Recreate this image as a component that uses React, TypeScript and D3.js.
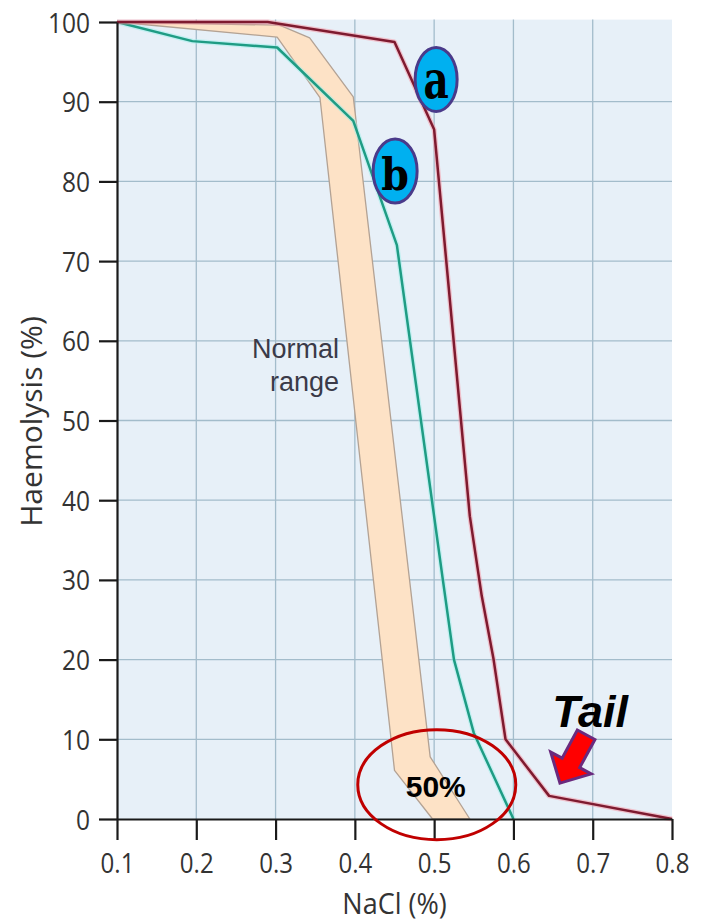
import React, { useEffect, useRef } from 'react';
import * as d3 from 'd3';

// Curve a (red)
const naclA = [0.1, 0.29, 0.45, 0.5, 0.545, 0.56, 0.575, 0.59, 0.645, 0.8];
const haemA = [100, 100, 97.5, 86.5, 38, 28, 20, 10, 2.9, 0];
// Curve b (green)
const naclB = [0.1, 0.195, 0.302, 0.398, 0.453, 0.511, 0.525, 0.55, 0.6];
const haemB = [100, 97.6, 96.8, 87.6, 72, 30, 20, 10.8, 0];
// Normal range band
const bandUpperX = [0.1, 0.305, 0.343, 0.398, 0.495, 0.545];
const bandUpperY = [100, 99.6, 98, 90.6, 7.8, 0];
const bandLowerX = [0.1, 0.302, 0.356, 0.45, 0.498];
const bandLowerY = [100, 98.1, 90.5, 6.1, 0];

const xTicks = [0.1, 0.2, 0.3, 0.4, 0.5, 0.6, 0.7, 0.8];
const yTicks = [0, 10, 20, 30, 40, 50, 60, 70, 80, 90, 100];
const xGrid = [0.2, 0.3, 0.4, 0.5, 0.6, 0.7];
const yGrid = [10, 20, 30, 40, 50, 60, 70, 80, 90];

const W = 707;
const H = 923;

export default function App() {
  const xRef = useRef<SVGGElement>(null);
  const yRef = useRef<SVGGElement>(null);

  const x = d3.scaleLinear().domain([0.1, 0.8]).range([117, 672]);
  const y = d3.scaleLinear().domain([0, 100]).range([819, 22]);

  useEffect(() => {
    const gx = d3.select(xRef.current!);
    gx.selectAll('*').remove();
    gx.call(
      d3.axisBottom(x).tickValues(xTicks).tickSize(21).tickSizeOuter(0).tickFormat(d3.format('.1f'))
    );
    gx.select('.domain').attr('stroke', '#1a1a1a').attr('stroke-width', 2.2);
    gx.selectAll('.tick line').attr('stroke', '#1a1a1a').attr('stroke-width', 2.2);
    gx.selectAll('.tick text')
      .attr('y', null)
      .attr('dy', null)
      .attr('transform', 'translate(0,54) scale(0.86,1)')
      .attr('fill', '#333')
      .style('font-family', '"Open Sans", sans-serif')
      .style('font-size', '28px');

    const gy = d3.select(yRef.current!);
    gy.selectAll('*').remove();
    gy.call(d3.axisLeft(y).tickValues(yTicks).tickSize(18).tickSizeOuter(0));
    gy.select('.domain').attr('stroke', '#1a1a1a').attr('stroke-width', 2.2);
    gy.selectAll('.tick line').attr('stroke', '#1a1a1a').attr('stroke-width', 2.2);
    gy.selectAll('.tick text')
      .attr('x', null)
      .attr('dy', '0.36em')
      .attr('transform', 'translate(-27,0) scale(0.875,1)')
      .attr('fill', '#333')
      .style('font-family', '"Open Sans", sans-serif')
      .style('font-size', '28px');
  }, []);

  const lineA = d3.line<number>().x((d, i) => x(naclA[i])).y((d) => y(d))(haemA) || '';
  const lineB = d3.line<number>().x((d, i) => x(naclB[i])).y((d) => y(d))(haemB) || '';
  const bandPts: [number, number][] = [
    ...bandUpperX.map((v, i) => [x(v), y(bandUpperY[i])] as [number, number]),
    ...bandLowerX.map((v, i) => [x(v), y(bandLowerY[i])] as [number, number]).reverse(),
  ];
  const bandPath = d3.line()(bandPts) + 'Z';

  // annotation anchors in data units
  const aC = [0.5025, 92.8];
  const bC = [0.4508, 81.3];
  const circC = [0.5033, 4.3];
  const arrowTip = [0.6587, 4.5];
  const tailPos = [0.649, 11.5];

  return (
    <svg width={W} height={H} style={{ position: 'absolute', left: 0, top: 0, background: '#fff' }}>
      <rect
        x={x(0.1)}
        y={y(100.3)}
        width={x(0.8) - x(0.1)}
        height={y(0) - y(100.3)}
        fill="#e7f0f8"
      />
      {xGrid.map((v) => (
        <line key={'gx' + v} x1={x(v)} x2={x(v)} y1={y(100.3)} y2={y(0)} stroke="#a3bccb" strokeWidth={1.3} />
      ))}
      {yGrid.map((v) => (
        <line key={'gy' + v} x1={x(0.1)} x2={x(0.8)} y1={y(v)} y2={y(v)} stroke="#a3bccb" strokeWidth={1.3} />
      ))}
      <path d={bandPath} fill="#fde2c6" stroke="#b3a294" strokeWidth={1.3} strokeLinejoin="round" />
      <path d={lineB} fill="none" stroke="#9ef0ec" strokeWidth={5} strokeOpacity={0.5} strokeLinejoin="round" />
      <path d={lineB} fill="none" stroke="#1f9c84" strokeWidth={2.5} strokeLinejoin="round" />
      <path d={lineA} fill="none" stroke="#f59aa8" strokeWidth={5} strokeOpacity={0.55} strokeLinejoin="round" />
      <path d={lineA} fill="none" stroke="#7e1a2f" strokeWidth={2.5} strokeLinejoin="round" />
      <g ref={xRef} transform={`translate(0,${y(0)})`} />
      <g ref={yRef} transform={`translate(${x(0.1)},0)`} />

      <text
        transform={`translate(394.5,914) scale(0.9,1)`}
        textAnchor="middle"
        fontFamily='"Open Sans", sans-serif'
        fontSize={30}
        fill="#333"
      >
        NaCl (%)
      </text>
      <text
        transform={`translate(42,421.5) rotate(-90)`}
        textAnchor="middle"
        fontFamily='"Open Sans", sans-serif'
        fontSize={30}
        fill="#333"
      >
        Haemolysis (%)
      </text>

      <g fontFamily='"Liberation Sans", Arial, sans-serif' fontSize={27} fill="#3a3a48" textAnchor="end">
        <text x={339} y={358}>Normal</text>
        <text x={339} y={391}>range</text>
      </g>

      <ellipse cx={x(aC[0])} cy={y(aC[1])} rx={21} ry={32} fill="#00b0f0" stroke="#4a3a8a" strokeWidth={3} />
      <text
        transform={`translate(${x(aC[0])},${y(aC[1]) + 19}) scale(0.85,1.12)`}
        textAnchor="middle"
        fontFamily='"DejaVu Serif", serif'
        fontWeight="bold"
        fontSize={46}
        fill="#000"
      >
        a
      </text>
      <ellipse cx={x(bC[0])} cy={y(bC[1])} rx={22} ry={32} fill="#00b0f0" stroke="#4a3a8a" strokeWidth={3} />
      <text
        transform={`translate(${x(bC[0])},${y(bC[1]) + 19}) scale(0.9,1)`}
        textAnchor="middle"
        fontFamily='"DejaVu Serif", serif'
        fontWeight="bold"
        fontSize={44}
        fill="#000"
      >
        b
      </text>

      <ellipse cx={x(circC[0])} cy={y(circC[1])} rx={79} ry={55} fill="none" stroke="#c00000" strokeWidth={3} />
      <text
        x={x(circC[0]) - 1}
        y={797}
        textAnchor="middle"
        fontFamily='"Liberation Sans", Arial, sans-serif'
        fontWeight="bold"
        fontSize={30}
        fill="#000"
      >
        50%
      </text>

      <polygon
        transform={`translate(${x(arrowTip[0])},${y(arrowTip[1])}) rotate(118.4)`}
        points="0,0 -23,-23 -23,-10 -55,-10 -55,10 -23,10 -23,23"
        fill="#ff0000"
        stroke="#6a2a7e"
        strokeWidth={3}
        strokeLinejoin="miter"
      />
      <text
        x={x(tailPos[0])}
        y={y(tailPos[1])}
        fontFamily='"Liberation Sans", Arial, sans-serif'
        fontWeight="bold"
        fontStyle="italic"
        fontSize={45}
        fill="#000"
      >
        Tail
      </text>
    </svg>
  );
}
